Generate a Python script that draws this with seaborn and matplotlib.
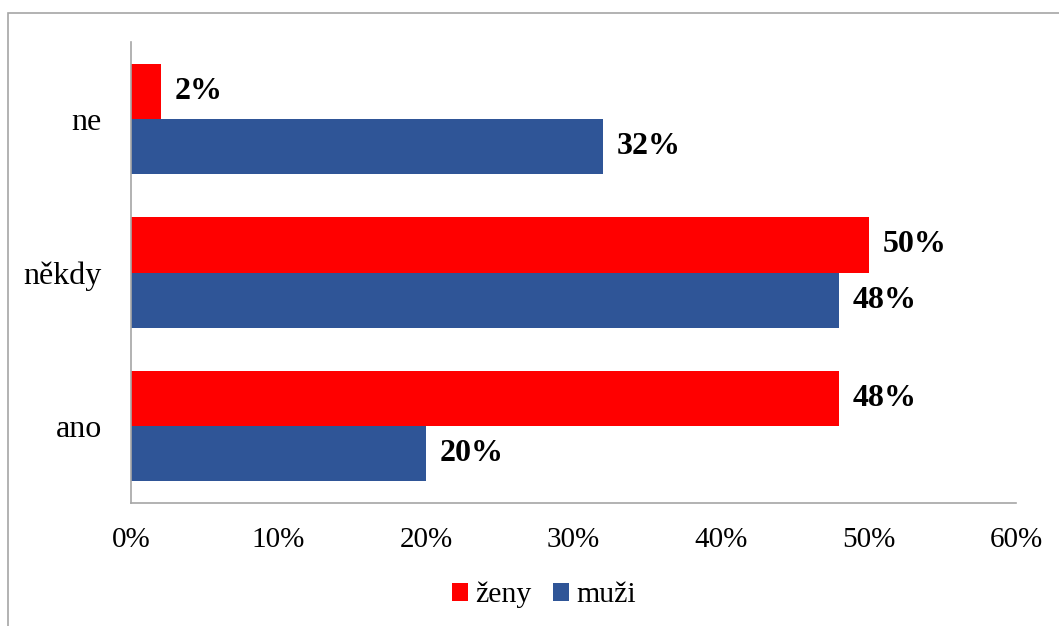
import matplotlib
matplotlib.use("Agg")
import matplotlib.pyplot as plt
import matplotlib.patches as mpatches
import seaborn as sns
import pandas as pd

categories = ["ne", "někdy", "ano"]
zeny = [2, 50, 48]
muzi = [32, 48, 20]
series_names = ["ženy", "muži"]
xticks = [0, 10, 20, 30, 40, 50, 60]

sns.set_style("white")
plt.rcParams['font.family'] = ['Liberation Serif', 'DejaVu Serif']
for k in ["text.color", "axes.labelcolor", "xtick.color", "ytick.color"]:
    plt.rcParams[k] = "black"

df = pd.DataFrame({
    "kategorie": categories * 2,
    "hodnota": zeny + muzi,
    "pohlaví": [series_names[0]] * 3 + [series_names[1]] * 3,
})

fig = plt.figure(figsize=(10.59, 6.26), dpi=100)
ax = fig.add_axes([131/1059, 1 - 503/626, (1016-131)/1059, (503-42)/626])

sns.barplot(data=df, y="kategorie", x="hodnota", hue="pohlaví",
            order=categories, hue_order=series_names,
            palette=["#FF0000", "#2F5597"], orient="h", width=0.72,
            saturation=1, linewidth=0, ax=ax, legend=True)

for cont in ax.containers:
    ax.bar_label(cont, labels=[f"{v:.0f}%" for v in cont.datavalues],
                 padding=10, fontsize=23, fontweight="bold", color="black")

ax.set_xlim(0, 60)
ax.set_ylim(2.5, -0.5)
ax.set_xticks(xticks)
ax.set_xticklabels([f"{t}%" for t in xticks], fontsize=21)
ax.tick_params(axis="x", pad=17, length=0)
ax.tick_params(axis="y", pad=21, length=0, labelsize=23)
ax.set_xlabel("")
ax.set_ylabel("")
for s in ["top", "right"]:
    ax.spines[s].set_visible(False)
for s in ["left", "bottom"]:
    ax.spines[s].set_color("#A6A6A6")
    ax.spines[s].set_linewidth(1.2)

handles, labels = ax.get_legend_handles_labels()
ax.legend(handles, labels, loc="center", bbox_to_anchor=(544/1059, 1 - 595/626),
          bbox_transform=fig.transFigure, ncol=2, frameon=False, fontsize=21.5,
          handlelength=0.55, handleheight=0.55, handletextpad=0.25, columnspacing=0.7)

border = mpatches.Rectangle((8/1059, -0.1), 1.2, 1 - 13/626 + 0.1,
                            transform=fig.transFigure, fill=False,
                            edgecolor="#A6A6A6", linewidth=1.2)
fig.patches.append(border)

fig.savefig("out.png", dpi=100)
